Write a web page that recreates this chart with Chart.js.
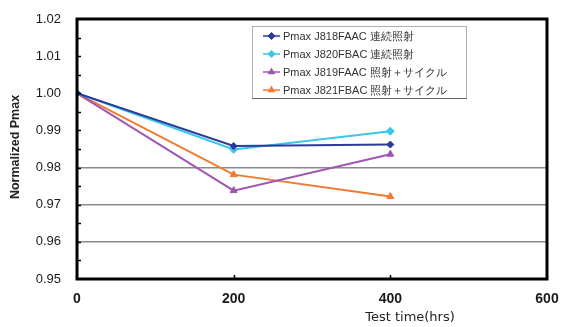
<!DOCTYPE html>
<html>
<head>
<meta charset="utf-8">
<script src="https://cdn.jsdelivr.net/npm/chart.js@4.4.1/dist/chart.umd.min.js"></script>
<style>
  html, body { margin: 0; padding: 0; background: #fff; }
  #wrap { position: relative; width: 562px; height: 327px; }
</style>
</head>
<body>
<div id="wrap"><canvas id="c" width="562" height="327"></canvas></div>
<script>
// Test time (hours) at which Pmax was measured
const testHours = [0, 200, 400];

// Normalized Pmax for each module
const j818Values = [1.000, 0.9858, 0.9862];
const j820Values = [1.000, 0.9849, 0.9898];
const j819Values = [1.000, 0.9738, 0.9836];
const j821Values = [1.000, 0.9781, 0.9722];

const seriesLabels = [
  'Pmax J818FAAC 連続照射',
  'Pmax J820FBAC 連続照射',
  'Pmax J819FAAC 照射＋サイクル',
  'Pmax J821FBAC 照射＋サイクル'
];

// Axis ranges and tick steps
const yMin = 0.95, yMax = 1.02, yStep = 0.01;
const xMin = 0, xMax = 600, xStep = 200;
const gridValues = [0.96, 0.97, 0.98];

const toPoints = vals => vals.map((v, i) => ({ x: testHours[i], y: v }));

const styles = [
  { color: '#2c3a98', point: 'rectRot', r: 3.5 },
  { color: '#38c6ea', point: 'rectRot', r: 4 },
  { color: '#9e56b0', point: 'triangle', r: 4 },
  { color: '#f27a30', point: 'triangle', r: 4 }
];
const allValues = [j818Values, j820Values, j819Values, j821Values];

const datasets = allValues.map((vals, i) => ({
  label: seriesLabels[i],
  data: toPoints(vals),
  borderColor: styles[i].color,
  backgroundColor: styles[i].color,
  pointStyle: styles[i].point,
  pointRadius: styles[i].r,
  pointBorderWidth: 1,
  borderWidth: 2,
  tension: 0
}));

const FONT = '"Liberation Sans", Arial, sans-serif';

// Frame, inner minor ticks, axis titles and boxed legend
const decorations = {
  id: 'decorations',
  afterDraw(chart) {
    const { ctx, chartArea: a, scales } = chart;
    const y = scales.y, x = scales.x;
    ctx.save();

    // inner tick marks on the value axis (every half step)
    ctx.strokeStyle = '#000';
    ctx.lineWidth = 1.5;
    for (let k = 1; k < 14; k++) {
      const py = Math.round(y.getPixelForValue(yMin + k * yStep / 2)) + 0.5;
      ctx.beginPath();
      ctx.moveTo(a.left, py);
      ctx.lineTo(a.left + 4, py);
      ctx.stroke();
    }
    // inner tick marks on the time axis
    for (let v = xMin + xStep; v < xMax; v += xStep) {
      const px = Math.round(x.getPixelForValue(v)) + 0.5;
      ctx.beginPath();
      ctx.moveTo(px, a.bottom);
      ctx.lineTo(px, a.bottom - 4);
      ctx.stroke();
    }

    // plot frame
    ctx.lineWidth = 3;
    ctx.strokeStyle = '#000';
    ctx.strokeRect(a.left, a.top, a.right - a.left, a.bottom - a.top);

    // x-axis title
    ctx.fillStyle = '#222';
    ctx.font = '13px "DejaVu Sans", sans-serif';
    ctx.textAlign = 'center';
    ctx.textBaseline = 'middle';
    ctx.fillText('Test time(hrs)', 410, 318);

    // y-axis title
    ctx.save();
    ctx.translate(16, 147);
    ctx.rotate(-Math.PI / 2);
    ctx.font = 'bold 12.5px ' + FONT;
    ctx.fillText('Normalized Pmax', 0, 0);
    ctx.restore();

    // legend box
    const lx = 252, ly = 26, lw = 214, lh = 72;
    ctx.fillStyle = '#fff';
    ctx.fillRect(lx, ly, lw, lh);
    ctx.lineWidth = 1;
    ctx.strokeStyle = '#b0b0b0';
    ctx.strokeRect(lx + 0.5, ly + 0.5, lw, lh);
    ctx.strokeStyle = '#666';
    ctx.beginPath();
    ctx.moveTo(lx, ly + lh + 0.5);
    ctx.lineTo(lx + lw + 1, ly + lh + 0.5);
    ctx.stroke();

    ctx.font = '11px ' + FONT;
    ctx.textAlign = 'left';
    chart.data.datasets.forEach((ds, i) => {
      const cy = 36 + i * 18;
      ctx.strokeStyle = ds.borderColor;
      ctx.lineWidth = 1.5;
      ctx.beginPath();
      ctx.moveTo(263, cy);
      ctx.lineTo(280, cy);
      ctx.stroke();
      ctx.fillStyle = ds.borderColor;
      Chart.helpers.drawPoint(ctx, {
        pointStyle: ds.pointStyle, radius: 3, borderWidth: 1, rotation: 0
      }, 271.5, cy);
      ctx.fillStyle = '#333';
      ctx.fillText(ds.label, 283, cy + 0.5);
    });
    ctx.restore();
  }
};

new Chart(document.getElementById('c'), {
  type: 'line',
  data: { datasets },
  options: {
    responsive: false,
    animation: false,
    devicePixelRatio: 1,
    layout: { padding: { top: 19, right: 15, left: 0, bottom: 0 } },
    plugins: { legend: { display: false }, tooltip: { enabled: false } },
    scales: {
      x: {
        type: 'linear',
        min: xMin, max: xMax,
        ticks: {
          stepSize: xStep,
          color: '#1a1a1a',
          font: { family: FONT, size: 14, weight: 'bold' },
          padding: 12,
          maxRotation: 0,
          callback: v => String(v)
        },
        grid: { display: false, drawTicks: false },
        border: { display: false },
        afterFit: s => { s.height = 48; s.paddingLeft = 0; s.paddingRight = 0; }
      },
      y: {
        min: yMin, max: yMax,
        ticks: {
          stepSize: yStep,
          color: '#1a1a1a',
          font: { family: FONT, size: 13 },
          padding: 16,
          callback: v => Number(v).toFixed(2)
        },
        grid: {
          drawTicks: false,
          lineWidth: 1.5,
          color: c => gridValues.some(g => Math.abs(c.tick.value - g) < 1e-6) ? '#8a8a8a' : 'rgba(0,0,0,0)'
        },
        border: { display: false },
        afterFit: s => { s.width = 77; s.paddingTop = 0; s.paddingBottom = 0; }
      }
    }
  },
  plugins: [decorations]
});
</script>
</body>
</html>
